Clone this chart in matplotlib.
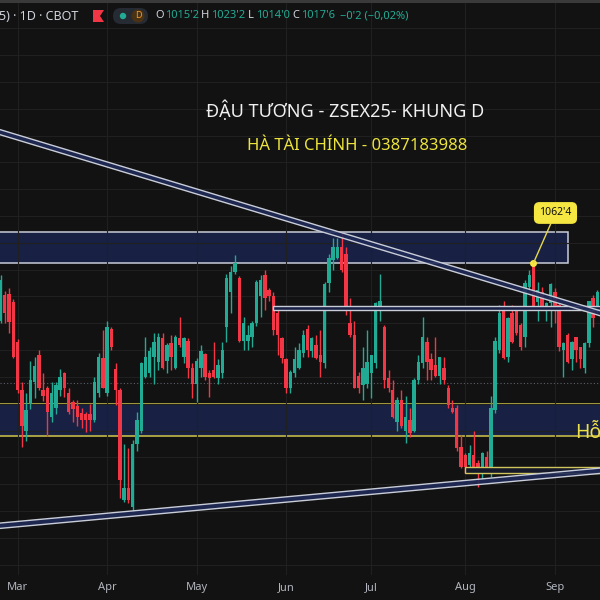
import numpy as np
import pandas as pd
import matplotlib.pyplot as plt
from matplotlib.patches import Rectangle, FancyBboxPatch, Circle, Polygon
from matplotlib.ticker import MultipleLocator

plt.rcParams['font.family'] = ['Noto Sans', 'DejaVu Sans']

# ZSX25 daily bars (cents/bu), 25 Feb -> 16 Sep 2025
opens = [1041, 1050.5, 1051, 1048, 1033, 1015, 1000, 1010, 1018, 1028,
         1015, 1016, 1005, 1008.5, 1015, 1021.5, 1014, 1010.5, 1009, 1006.5,
         1006, 1006, 1004, 1014, 1027, 1014, 1038, 1023, 1015, 974,
         978.5, 971.5, 995, 1000, 1020, 1021.5, 1027.5, 1025.5, 1034.5, 1026,
         1032.5, 1023.5, 1034.5, 1027.5, 1033.5, 1023.5, 1017.5, 1023.5, 1028.5, 1021.5,
         1022.5, 1019.5, 1021.5, 1038.5, 1051.5, 1059, 1057, 1033.5, 1033.5, 1035,
         1040, 1050, 1058, 1052.5, 1050, 1044, 1034.5, 1026.5, 1016, 1021.5,
         1023.5, 1029, 1038, 1029.5, 1032, 1028, 1025, 1055, 1063.5, 1064.5,
         1068.5, 1066, 1040, 1035.5, 1020.5, 1017, 1017.5, 1021.5, 1025, 1045,
         1038.5, 1019.5, 1015, 1003, 1011.5, 1000, 1004, 1000, 1019, 1025,
         1033, 1026.5, 1024.5, 1020.5, 1023.5, 1016, 1008.5, 1008.5, 994, 991,
         987, 991, 988, 986, 990, 986.5, 1007.5, 1030, 1045.5, 1027.5,
         1044, 1045, 1039.5, 1035, 1053.5, 1062, 1048, 1051.5, 1045.5, 1047.5,
         1051.5, 1047, 1030, 1035.5, 1026.5, 1035, 1031, 1023.5, 1032.5, 1049.5,
         1046]
highs = [1058, 1052, 1053, 1049, 1034, 1018, 1014, 1026, 1027.5, 1030,
         1021.5, 1016.5, 1018, 1018, 1023, 1022, 1016, 1011.5, 1011.5, 1008.5,
         1007, 1010, 1020, 1029, 1037.5, 1041, 1038.5, 1025, 1016, 995,
         993.5, 996.5, 1007, 1025.5, 1035, 1031, 1036.5, 1036.5, 1036.5, 1032.5,
         1035.5, 1035.5, 1042.5, 1035, 1034.5, 1025, 1027, 1032, 1029, 1022.5,
         1033, 1026.5, 1033, 1058.5, 1061.5, 1065.5, 1057.5, 1042.5, 1039.5, 1041,
         1056, 1058, 1060, 1053, 1051.5, 1045, 1035, 1027, 1022.5, 1031,
         1032.5, 1037.5, 1039.5, 1035, 1035.5, 1037.5, 1055.5, 1066, 1072, 1072,
         1073.5, 1068.5, 1049.5, 1041, 1022, 1031, 1037.5, 1028, 1048, 1058.5,
         1039.5, 1022.5, 1019, 1012.5, 1015, 1013, 1008.5, 1019.5, 1028, 1042.5,
         1035, 1029, 1035, 1027.5, 1027.5, 1017, 1011.5, 1009.5, 998.5, 991.5,
         994.5, 1000, 989, 992, 992.5, 1013, 1035, 1047, 1048.5, 1042.5,
         1047, 1045.5, 1040, 1056, 1060, 1062.5, 1055.5, 1053.5, 1048, 1055,
         1053, 1047.5, 1033, 1036.5, 1033.5, 1035, 1031, 1033, 1048.5, 1050.5,
         1052.5]
lows = [1040, 1040, 1036.5, 1027, 1014, 994, 996, 1008, 1012, 1015,
        1011, 998, 1003, 1006, 1013, 1012.5, 1006, 1003, 1001.5, 1001,
        999.5, 1000, 1003, 1012.5, 1016, 1013, 1030, 1009.5, 975, 973.5,
        973, 969.5, 992.5, 999, 1019.5, 1020, 1017.5, 1022.5, 1023, 1021.5,
        1022.5, 1023, 1031, 1025, 1019.5, 1012, 1010.5, 1020, 1019, 1012.5,
        1019.5, 1017.5, 1019.5, 1033, 1044, 1058.5, 1033, 1030, 1030, 1031,
        1039, 1042.5, 1045, 1048.5, 1035.5, 1028, 1025, 1014, 1014, 1020,
        1023, 1027.5, 1027.5, 1027.5, 1026.5, 1020, 1023.5, 1051.5, 1060, 1064,
        1059, 1043, 1035, 1016, 1014, 1011.5, 1016, 1012, 1023.5, 1041,
        1016, 1014.5, 1004.5, 1000, 1001, 995.5, 997.5, 999.5, 1017.5, 1023.5,
        1019, 1019, 1020, 1017.5, 1017.5, 1008.5, 1006.5, 992.5, 986, 984,
        986, 985, 979, 982, 984, 982.5, 1006.5, 1029, 1026.5, 1025.5,
        1032.5, 1035.5, 1030, 1031, 1052.5, 1045, 1041, 1045, 1041, 1038.5,
        1040, 1029.5, 1020, 1025, 1022.5, 1025.5, 1023.5, 1021.5, 1031, 1038.5,
        1044]
closes = [1056, 1044, 1040.5, 1027.5, 1015, 1001.5, 1007.5, 1019, 1024, 1016,
          1013, 1007, 1014, 1017, 1020, 1016, 1007, 1008, 1005, 1004,
          1004, 1004, 1018, 1027.5, 1016, 1038.5, 1031, 1015, 981.5, 978.5,
          974, 995, 1004, 1025, 1027.5, 1029.5, 1033, 1035, 1023.5, 1032,
          1027.5, 1035, 1032, 1034.5, 1023.5, 1017.5, 1026, 1029.5, 1020, 1019.5,
          1020, 1024.5, 1030, 1057, 1059, 1062.5, 1033.5, 1040, 1035.5, 1040,
          1055.5, 1056, 1049.5, 1050, 1037.5, 1035.5, 1027, 1016, 1022, 1026.5,
          1030, 1035.5, 1030, 1034.5, 1027, 1025.5, 1054.5, 1064.5, 1068.5, 1068.5,
          1060, 1045, 1035.5, 1016, 1016, 1023.5, 1025.5, 1028, 1047.5, 1048.5,
          1019, 1016, 1005, 1011.5, 1001.5, 1005, 999, 1019, 1025.5, 1035,
          1025.5, 1022.5, 1020.5, 1027.5, 1019, 1009.5, 1007, 993.5, 986.5, 986.5,
          991.5, 986.5, 984, 991.5, 986.5, 1008.5, 1033.5, 1044, 1027, 1042,
          1033, 1036.5, 1031, 1055, 1058, 1046, 1052.5, 1046, 1047.5, 1054.5,
          1045.5, 1031, 1032.5, 1025.5, 1033, 1030, 1026.5, 1032.5, 1048.5, 1042,
          1051.5]

holidays = ['2025-04-18', '2025-05-26', '2025-06-19', '2025-07-04', '2025-09-01']
dates = pd.bdate_range('2025-02-25', periods=len(opens), freq='C', holidays=holidays)

# drawn levels (cents)
resist_zone = (1062.4, 1073.9)
resist_end = 133
mid_band = (1044.9, 1046.4)
mid_start = 64
support_zone = (997.9, 1009.9)
aug_band = (984.2, 986.5)
aug_start = 109
last_price = 1017.75
down_trend = [(0, 1112.2), (140, 1045.0)]
up_trend = [(0, 965.5), (140, 985.9)]
peak_idx = 125

BG = '#121212'
GRID = '#202020'
UP = '#22ab94'
DOWN = '#f23645'
NAVY = '#182043'
LINE = '#c9cdd8'
YELLOW = '#d2c84a'
TEXT = '#d1d4dc'


def fmt_price(p):
    whole = int(p)
    return f"{whole}'{int(round((p - whole) * 8))}"


def px(x, y):
    return x / 600, 1 - y / 600


def draw_channel(ax, pts, width):
    (x0, y0), (x1, y1) = pts
    xs = np.array([-5.0, 150.0])
    upper = y0 + (y1 - y0) / (x1 - x0) * (xs - x0)
    lower = upper - width
    ax.fill_between(xs, lower, upper, color='#1f2a58', alpha=0.9, lw=0, zorder=4)
    ax.plot(xs, upper, color=LINE, lw=1.0, zorder=5)
    ax.plot(xs, lower, color=LINE, lw=1.0, zorder=5)


fig = plt.figure(figsize=(6, 6), dpi=100, facecolor=BG)
ax = fig.add_axes([0, 25 / 600, 1, 575 / 600], facecolor=BG)

o = np.array(opens)
h = np.array(highs)
l = np.array(lows)
c = np.array(closes)
idx = np.arange(len(o))
colors = np.where(c >= o, UP, DOWN)

# zones
ax.add_patch(Rectangle((-5, resist_zone[0]), resist_end + 5, resist_zone[1] - resist_zone[0],
                       fc=NAVY, ec=LINE, lw=1.1, zorder=1))
ax.add_patch(Rectangle((-5, support_zone[0]), 155, support_zone[1] - support_zone[0],
                       fc=NAVY, ec=YELLOW, lw=1.1, zorder=1))
ax.add_patch(Rectangle((mid_start, mid_band[0]), 150 - mid_start, mid_band[1] - mid_band[0],
                       fc=NAVY, ec=LINE, lw=1.0, zorder=3))
ax.add_patch(Rectangle((aug_start, aug_band[0]), 150 - aug_start, aug_band[1] - aug_band[0],
                       fc='#15192a', ec='#cfc55c', lw=1.0, zorder=3))

ax.axhline(last_price, color='#5d606b', lw=0.8, ls=(0, (1, 2)), zorder=1)

# candles
ax.vlines(idx, l, h, colors=colors, lw=1.0, zorder=2)
body = np.maximum(np.abs(c - o), 0.4)
ax.bar(idx, body, bottom=np.minimum(o, c), width=0.8, color=colors, lw=0, zorder=2)

draw_channel(ax, down_trend, 1.9)
draw_channel(ax, up_trend, 2.0)

# swing high label
peak = highs[peak_idx]
ax.plot(peak_idx, peak, 'o', ms=4, color='#f5e642', zorder=7)
ax.annotate(fmt_price(peak), xy=(peak_idx, peak), xytext=(22, 50), textcoords='offset pixels',
            ha='center', va='center', fontsize=7.5, color='#111111', zorder=7,
            bbox=dict(boxstyle='round,pad=0.45', fc='#f5e642', ec='#f5e642'),
            arrowprops=dict(arrowstyle='-', color='#e6d84a', lw=1, shrinkA=0, shrinkB=0))

ax.text(134.7, 997.2, 'Hỗ', color='#ece04a', fontsize=14, fontweight='bold',
        va='baseline', ha='left', zorder=8)

# axes, grid
month_pos = [i for i in range(1, len(dates)) if dates[i].month != dates[i - 1].month]
ax.set_xticks(month_pos)
ax.set_xticklabels([dates[i].strftime('%b') for i in month_pos])
ax.yaxis.set_major_locator(MultipleLocator(10))
ax.set_xlim(-0.12, 140.6)
ax.set_ylim(946.1, 1160.6)
ax.grid(True, color=GRID, lw=0.8, zorder=0)
ax.tick_params(axis='x', length=0, pad=5, labelsize=8, labelcolor='#b2b5be')
ax.tick_params(axis='y', length=0, labelleft=False)
for s in ax.spines.values():
    s.set_visible(False)

# title
fig.text(*px(345, 117), 'ĐẬU TƯƠNG - ZSEX25- KHUNG D', color='#f0f0f0', fontsize=13,
         ha='center', va='baseline')
fig.text(*px(357, 150), 'HÀ TÀI CHÍNH - 0387183988', color='#ece43c', fontsize=12,
         ha='center', va='baseline')

# header strip
fig.patches.append(Rectangle(px(0, 2.5), 1, 2.5 / 600, transform=fig.transFigure,
                             fc='#3a3a3a', lw=0))
hy = 16
fig.text(*px(-1, hy), '5) · 1D · CBOT', color=TEXT, fontsize=9, va='center', ha='left')
flag = [px(93, 10), px(104, 10), px(100, 16), px(104, 22), px(93, 22)]
fig.patches.append(Polygon(flag, closed=True, transform=fig.transFigure, fc=DOWN, lw=0))
fig.patches.append(FancyBboxPatch(px(113, 24), 35 / 600, 16 / 600, transform=fig.transFigure,
                                  boxstyle='round,pad=0,rounding_size=0.013', fc='#262a33', lw=0))
fig.patches.append(Circle(px(123, hy), 3.2 / 600, transform=fig.transFigure, fc=UP, lw=0))
fig.patches.append(Circle(px(138, hy), 6.5 / 600, transform=fig.transFigure, fc='#4a3214', lw=0))
fig.text(*px(138, hy), 'D', color='#f29a2e', fontsize=6.5, ha='center', va='center')

ohlc = [('O', 155, TEXT), ("1015'2", 165, UP), ('H', 201, TEXT), ("1023'2", 211, UP),
        ('L', 248, TEXT), ("1014'0", 256, UP), ('C', 292, TEXT), ("1017'6", 301, UP),
        ("−0'2 (−0,02%)", 340, UP)]
for label, x, col in ohlc:
    fig.text(*px(x, hy), label, color=col, fontsize=8, ha='left', va='center')

fig.savefig('out.png', dpi=100, facecolor=BG)
